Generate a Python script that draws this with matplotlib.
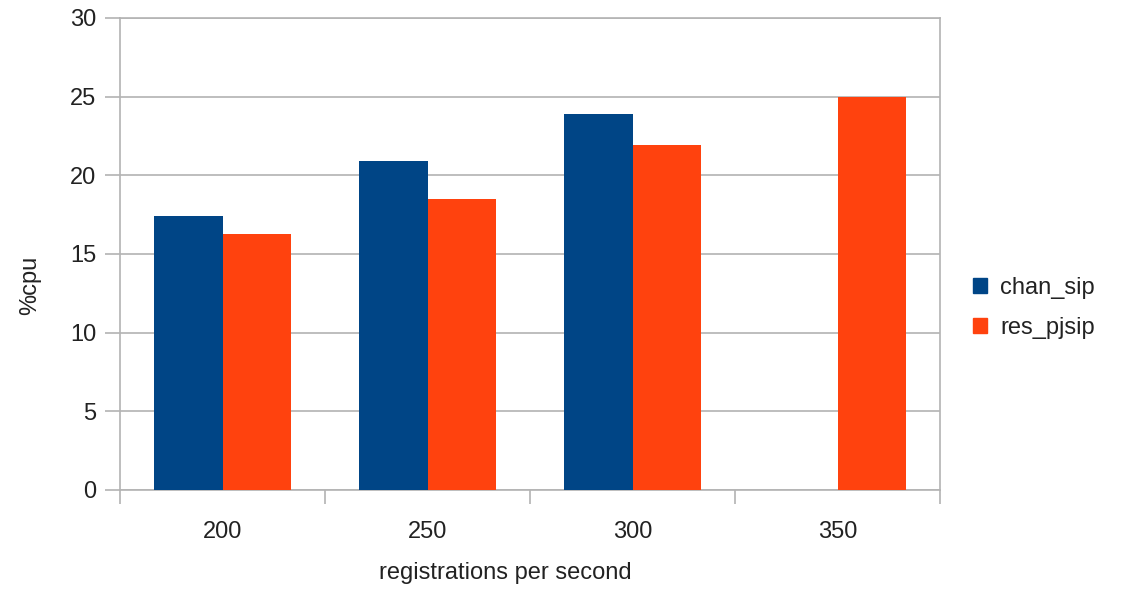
import numpy as np
import matplotlib
matplotlib.use("Agg")
import matplotlib.pyplot as plt
from matplotlib.patches import Patch

categories = ["200", "250", "300", "350"]
chan_sip = [17.4, 20.9, 23.9, np.nan]
res_pjsip = [16.3, 18.5, 21.9, 25.0]

plt.rcParams["font.family"] = ["Liberation Sans", "DejaVu Sans"]
txt = "#222222"
grid_c = "#b3b3b3"
blue = "#004586"
orange = "#ff420e"
fs = 17

fig = plt.figure(figsize=(11.27, 5.89), dpi=100)
ax = fig.add_axes([120 / 1127, 1 - 490 / 589, 820 / 1127, 472 / 589])

x = np.arange(len(categories))
w = 0.335
ax.bar(x - w / 2, chan_sip, w, color=blue, label="chan_sip", zorder=3)
ax.bar(x + w / 2, res_pjsip, w, color=orange, label="res_pjsip", zorder=3)

ax.set_xlim(-0.5, len(categories) - 0.5)
ax.set_ylim(0, 30)
ax.set_yticks(range(0, 31, 5))
ax.yaxis.grid(True, color=grid_c, linewidth=1.2, zorder=0)

ax.set_xticks(x)
ax.set_xticklabels(categories)
ax.set_xticks(np.arange(-0.5, len(categories), 1), minor=True)
ax.tick_params(axis="x", which="major", length=0, pad=22, labelsize=fs, labelcolor=txt)
ax.tick_params(axis="x", which="minor", length=10, width=1.2, color=grid_c)
ax.tick_params(axis="y", length=11, width=1.2, color=grid_c, pad=6, labelsize=fs, labelcolor=txt)

for s in ax.spines.values():
    s.set_color(grid_c)
    s.set_linewidth(1.2)

fig.text(505 / 1127, 1 - 573 / 589, "registrations per second", ha="center", va="center",
         fontsize=fs, color=txt)
fig.text(30 / 1127, 1 - 285 / 589, "%cpu", ha="center", va="center", rotation=90,
         fontsize=fs, color=txt)

handles = [Patch(color=blue, label="chan_sip"), Patch(color=orange, label="res_pjsip")]
fig.legend(handles=handles, loc="center left", bbox_to_anchor=(952 / 1127, 1 - 308 / 589),
           frameon=False, fontsize=fs, handlelength=0.6, handleheight=0.6,
           handletextpad=0.55, labelspacing=0.75, labelcolor=txt)

fig.savefig("out.png", dpi=100)
